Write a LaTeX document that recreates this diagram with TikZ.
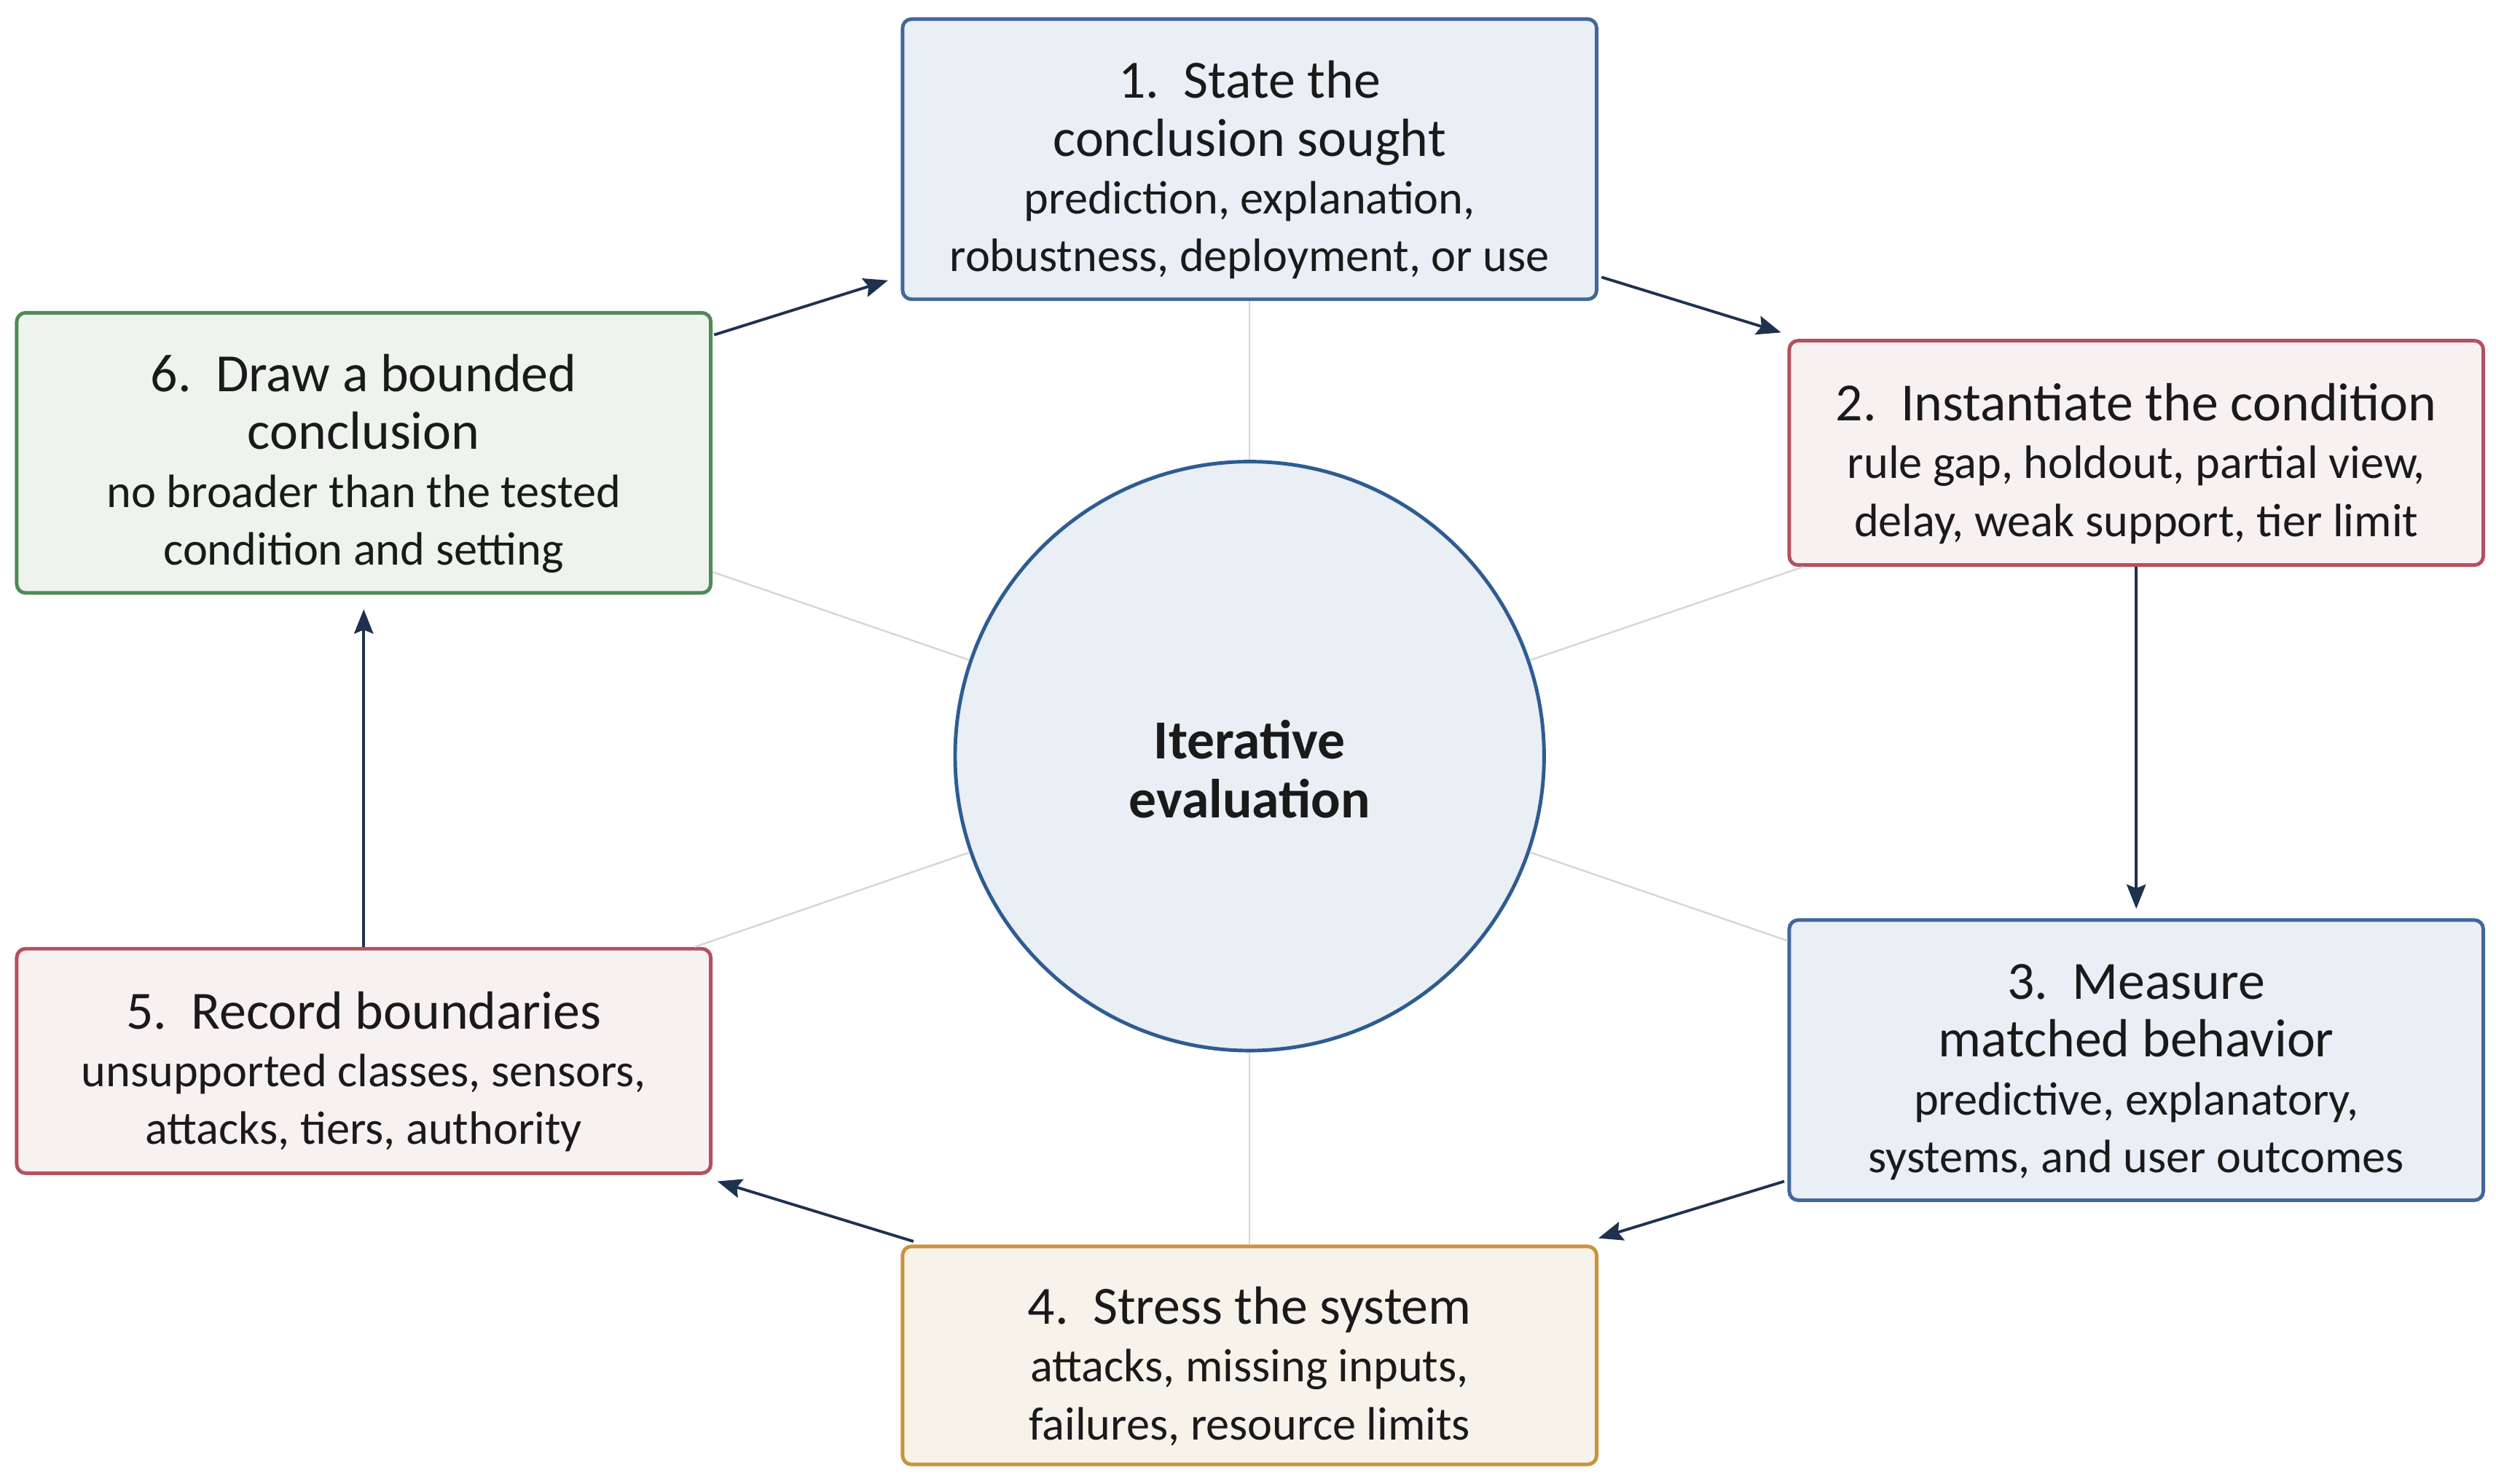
\documentclass[tikz,border=0pt]{standalone}
\usepackage{fontspec}
\setmainfont{Carlito}
\usetikzlibrary{arrows.meta,calc}
\definecolor{bluedraw}{HTML}{41679B}
\definecolor{bluefill}{HTML}{EAEEF5}
\definecolor{circdraw}{HTML}{2E5C92}
\definecolor{reddraw}{HTML}{B4505F}
\definecolor{redfill}{HTML}{F7F1F1}
\definecolor{greendraw}{HTML}{4F8A57}
\definecolor{greenfill}{HTML}{EEF3EE}
\definecolor{orangedraw}{HTML}{C9933D}
\definecolor{orangefill}{HTML}{F8F3EA}
\definecolor{arrowcol}{HTML}{1E324F}
\definecolor{spokecol}{HTML}{D6D6D6}
\definecolor{textcol}{HTML}{1A1A1A}
\newcommand{\ttl}[1]{{\fontsize{21pt}{22.6pt}\selectfont #1}}
\newcommand{\fst}[1]{\rule{0pt}{23pt}\ttl{#1}}
\tikzset{
  stepbox/.style={rectangle, rounded corners=3.5pt, line width=1.4pt,
    minimum width=9.527cm, align=center, text=textcol, inner sep=0pt,
    font=\fontsize{18.3pt}{22.6pt}\selectfont},
  bluebox/.style={stepbox, draw=bluedraw, fill=bluefill},
  redbox/.style={stepbox, draw=reddraw, fill=redfill},
  greenbox/.style={stepbox, draw=greendraw, fill=greenfill},
  orangebox/.style={stepbox, draw=orangedraw, fill=orangefill},
  hubnode/.style={circle, draw=circdraw, fill=bluefill, line width=1.4pt,
    minimum size=8.085cm, align=center, text=textcol, inner sep=0pt,
    font=\bfseries\fontsize{21.5pt}{23pt}\selectfont},
  spoke/.style={draw=spokecol, line width=0.7pt},
  flow/.style={draw=arrowcol, line width=1.1pt,
    -{Stealth[length=9.5pt,width=7.5pt,inset=1.5pt]}}
}
\begin{document}
\begin{tikzpicture}[x=0.02185cm, y=-0.02185cm]
\useasboundingbox (0,0) rectangle (1568,932);
\coordinate (hc) at (785,475);
\node[bluebox, minimum height=3.846cm] (b1) at (785,100) {\fst{1.\ \ State the}\\\ttl{conclusion sought}\\prediction, explanation,\\robustness, deployment, or use};
\node[redbox, minimum height=3.081cm] (b2) at (1342,284.5) {\fst{2.\ \ Instantiate the condition}\\rule gap, holdout, partial view,\\delay, weak support, tier limit};
\node[bluebox, minimum height=3.846cm] (b3) at (1342,666) {\fst{3.\ \ Measure}\\\ttl{matched behavior}\\predictive, explanatory,\\systems, and user outcomes};
\node[orangebox, minimum height=2.993cm] (b4) at (785,851.5) {\fst{4.\ \ Stress the system}\\attacks, missing inputs,\\failures, resource limits};
\node[redbox, minimum height=3.081cm] (b5) at (228.5,666.5) {\fst{5.\ \ Record boundaries}\\unsupported classes, sensors,\\attacks, tiers, authority};
\node[greenbox, minimum height=3.846cm] (b6) at (228.5,284.5) {\fst{6.\ \ Draw a bounded}\\\ttl{conclusion}\\no broader than the tested\\condition and setting};
\node[hubnode] (hub) at (hc) {\rule{0pt}{25.5pt}Iterative\\evaluation};
% spokes
\foreach \b in {b1,b2,b3,b4,b5,b6}{
  \path[spoke] (hub) -- (\b);
}
% arrows
\draw[flow] ($(b6.north east)+(1,15)$) -- ($(b1.south west)+(-8,-13)$);
\draw[flow] ($(b1.south east)+(2,-15)$) -- ($(b2.north west)+(-4,-4)$);
\draw[flow, shorten >=0.13cm] (b2.south) -- (b3.north);
\draw[flow] ($(b3.south west)+(-2,-13)$) -- ($(b4.north east)+(0,-4)$);
\draw[flow] ($(b4.north west)+(8,-2)$) -- ($(b5.south east)+(3,4)$);
\draw[flow, shorten >=0.2cm] (b5.north) -- (b6.south);
\end{tikzpicture}
\end{document}
